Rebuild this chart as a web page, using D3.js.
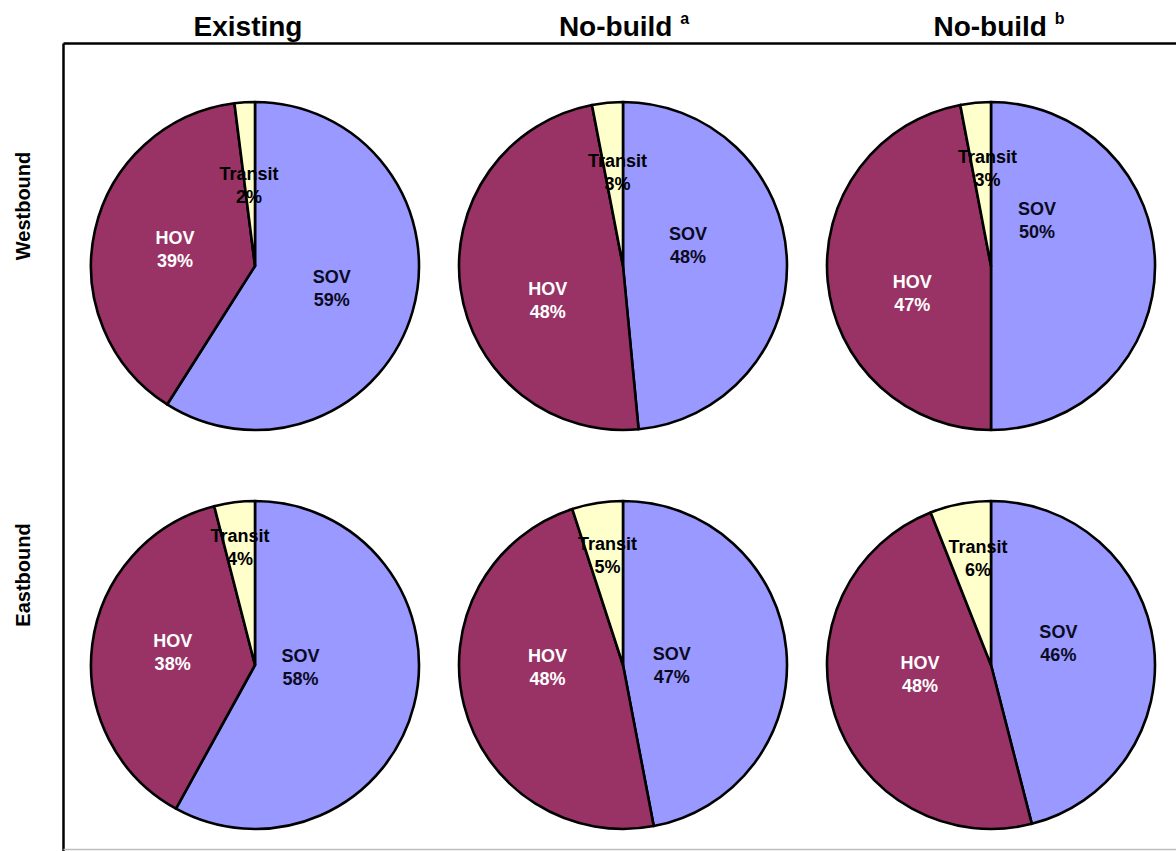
<!DOCTYPE html>
<html>
<head>
<meta charset="utf-8">
<script src="https://cdn.jsdelivr.net/npm/d3@7"></script>
<style>
  html, body { margin: 0; padding: 0; background: #fff; }
  svg { display: block; }
  text { font-family: "Liberation Sans", Arial, Helvetica, sans-serif; font-weight: bold; }
</style>
</head>
<body>
<svg id="chart" width="1176" height="851"></svg>
<script>
// Mode share of trips by direction and scenario (percent)
const scenarios = ["Existing", "No-build", "No-build"];
const scenarioNotes = ["", "a", "b"];
const directions = ["Westbound", "Eastbound"];
const modes = ["SOV", "HOV", "Transit"];

// values per direction, one array per scenario, in mode order SOV, HOV, Transit
const westbound = [
  [59, 39, 2],
  [48, 48, 3],
  [50, 47, 3]
];
const eastbound = [
  [58, 38, 4],
  [47, 48, 5],
  [46, 48, 6]
];

// ---- layout / style ----
const W = 1176, H = 851;
const radius = 164;
const labelRadius = 80;
const modeFill = { SOV: "#9999FF", HOV: "#993366", Transit: "#FFFFCC" };
const modeText = { SOV: "#0a0a22", HOV: "#ffffff", Transit: "#000000" };
const titleShift = [-7, 1, 8];

// hand-placed label shifts (dx, dy) from the slice centroid, per panel row/col and mode
const labelNudge = {
  "0-0": { SOV: [0, 0],     HOV: [-2, 0],   Transit: [-1, -1] },
  "0-1": { SOV: [-15, -17], HOV: [4, 23],   Transit: [2, -14] },
  "0-2": { SOV: [-34, -46], HOV: [1, 19],   Transit: [4, -18] },
  "1-0": { SOV: [-32, -18], HOV: [-3, -3],  Transit: [-5, -39] },
  "1-1": { SOV: [-31, 8],   HOV: [2, -18],  Transit: [-3, -31] },
  "1-2": { SOV: [-12, -12], HOV: [5, -16],  Transit: [2, -28] }
};

const svg = d3.select("#chart");

const x = d3.scalePoint().domain(d3.range(scenarios.length)).range([255, 991]);
const y = d3.scalePoint().domain(directions).range([266, 665]);

// frame
svg.append("line").attr("x1", 63.5).attr("x2", W).attr("y1", 43.5).attr("y2", 43.5)
  .attr("stroke", "#000").attr("stroke-width", 2.5);
svg.append("line").attr("x1", 63.5).attr("x2", 63.5).attr("y1", 43.5).attr("y2", H)
  .attr("stroke", "#000").attr("stroke-width", 2.5);
svg.append("line").attr("x1", 63.5).attr("x2", W).attr("y1", 849.5).attr("y2", 849.5)
  .attr("stroke", "#bdbdbd").attr("stroke-width", 1.5);

// column titles
scenarios.forEach((s, i) => {
  const t = svg.append("text")
    .attr("x", x(i) + titleShift[i]).attr("y", 36)
    .attr("text-anchor", "middle")
    .attr("font-size", 28)
    .attr("fill", "#000");
  t.append("tspan").text(s);
  if (scenarioNotes[i]) {
    t.append("tspan").text("\u00a0");
    t.append("tspan").text(scenarioNotes[i])
      .attr("font-size", 16).attr("dy", -12);
  }
});

// row titles
const rowLabelY = { Westbound: 206, Eastbound: 575 };
directions.forEach(d => {
  svg.append("text")
    .attr("transform", `translate(30,${rowLabelY[d]}) rotate(-90)`)
    .attr("text-anchor", "middle")
    .attr("font-size", 20)
    .attr("fill", "#000")
    .text(d);
});

const pie = d3.pie().sort(null).value(d => d.value);
const arc = d3.arc().innerRadius(0).outerRadius(radius);
const labelArc = d3.arc().innerRadius(labelRadius).outerRadius(labelRadius);

const rows = [westbound, eastbound];
rows.forEach((rowVals, r) => {
  rowVals.forEach((vals, c) => {
    const data = modes.map((m, k) => ({ mode: m, value: vals[k] }));
    const g = svg.append("g")
      .attr("transform", `translate(${x(c)},${y(directions[r])})`);

    const arcs = pie(data);

    g.selectAll("path.slice")
      .data(arcs)
      .join("path")
      .attr("class", "slice")
      .attr("d", arc)
      .attr("fill", d => modeFill[d.data.mode])
      .attr("stroke", "#000")
      .attr("stroke-width", 2.6)
      .attr("stroke-linejoin", "round");

    const nudge = labelNudge[`${r}-${c}`];
    const lbl = g.selectAll("text.lbl")
      .data(arcs)
      .join("text")
      .attr("class", "lbl")
      .attr("text-anchor", "middle")
      .attr("font-size", 18)
      .attr("fill", d => modeText[d.data.mode])
      .attr("transform", d => {
        const [cx, cy] = labelArc.centroid(d);
        const [dx, dy] = nudge[d.data.mode];
        return `translate(${cx + dx},${cy + dy})`;
      });
    lbl.append("tspan").attr("x", 0).attr("y", -5).text(d => d.data.mode);
    lbl.append("tspan").attr("x", 0).attr("y", 18).text(d => d.data.value + "%");
  });
});
</script>
</body>
</html>
